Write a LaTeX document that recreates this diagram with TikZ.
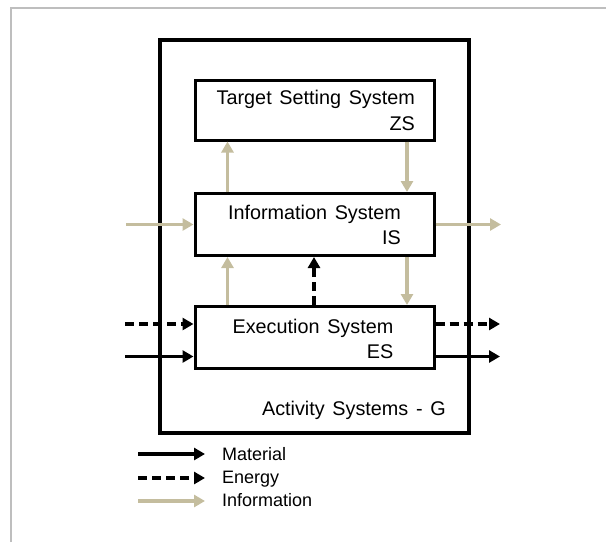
\documentclass[tikz,border=0pt]{standalone}
\usepackage{fontspec}
\setmainfont{Liberation Sans}[WordSpace=1.4]
\usetikzlibrary{arrows.meta}
\definecolor{infoc}{RGB}{196,189,158}
\definecolor{framec}{RGB}{190,190,190}
\begin{document}
\begin{tikzpicture}[x=1pt,y=-1pt,
  sysbox/.style={draw=black,line width=3pt,minimum width=239pt,minimum height=62pt,inner sep=0pt},
  lbl/.style={inner sep=0pt,font=\fontsize{19.8}{22}\selectfont},
  leglbl/.style={inner sep=0pt,anchor=base west,font=\fontsize{18}{20}\selectfont},
  tip/.style={-{Triangle[length=11pt,width=12pt]}},
  info/.style={tip,draw=infoc,fill=infoc,line width=3.6pt},
  matl/.style={tip,draw=black,line width=3.2pt},
  energy/.style={tip,draw=black,line width=3.2pt,dash pattern=on 9pt off 5pt}]
\useasboundingbox (0,0) rectangle (606,542);
% page frame
\draw[framec,line width=1.2pt] (11,542) -- (11,8) -- (606,8);
% outer activity system
\node[draw=black,line width=3.4pt,minimum width=309pt,minimum height=393pt,inner sep=0pt] (G) at (314.5,236.5) {};
\node[lbl,anchor=base east] (Glbl) at (446,415) {Activity Systems - G};
% boxes
\node[sysbox,minimum height=60pt] (ZS) at (314.5,110) {};
\node[sysbox] (IS) at (314.5,224.5) {};
\node[sysbox] (ES) at (314.5,337.5) {};
% box texts
\node[lbl,anchor=base east] (ZSa) at (415,104) {Target Setting System};
\node[lbl,anchor=base east] (ZSb) at (415,130) {ZS};
\node[lbl,anchor=base east] (ISa) at (401,219.5) {Information System};
\node[lbl,anchor=base east] (ISb) at (401,244.5) {IS};
\node[lbl,anchor=base east] (ESa) at (393.5,333) {Execution System};
\node[lbl,anchor=base east] (ESb) at (393.5,358) {ES};
% vertical positions of inner connectors
\coordinate (xL) at (227.5,0);
\coordinate (xM) at (314,0);
\coordinate (xR) at (407,0);
% inner information flows
\draw[info] (IS.north -| xL) -- (ZS.south -| xL);
\draw[info] (ZS.south -| xR) -- (IS.north -| xR);
\draw[info] (ES.north -| xL) -- (IS.south -| xL);
\draw[info] (IS.south -| xR) -- (ES.north -| xR);
\draw[energy] (ES.north -| xM) -- (IS.south -| xM);
% external flows
\coordinate (infoIn) at (126,224.5);
\coordinate (infoOut) at (501,224.5);
\coordinate (enIn) at (125,324);
\coordinate (enOut) at (500,324);
\coordinate (maIn) at (125,356.5);
\coordinate (maOut) at (500,356.5);
\draw[info] (infoIn) -- (infoIn -| IS.west);
\draw[info] (infoIn -| IS.east) -- (infoOut);
\draw[energy] (enIn) -- (enIn -| ES.west);
\draw[energy] (enIn -| ES.east) -- (enOut);
\draw[matl] (maIn) -- (maIn -| ES.west);
\draw[matl] (maIn -| ES.east) -- (maOut);
% legend
\coordinate (l1a) at (138,454);
\coordinate (l1b) at (205,454);
\coordinate (l2a) at (138,478);
\coordinate (l2b) at (205,478);
\coordinate (l3a) at (138,501);
\coordinate (l3b) at (205,501);
\draw[matl] (l1a) -- (l1b);
\draw[energy] (l2a) -- (l2b);
\draw[info] (l3a) -- (l3b);
\node[leglbl] (legM) at (222,460.5) {Material};
\node[leglbl] (legE) at (222,483.5) {Energy};
\node[leglbl] (legI) at (222,506) {Information};
\end{tikzpicture}
\end{document}
